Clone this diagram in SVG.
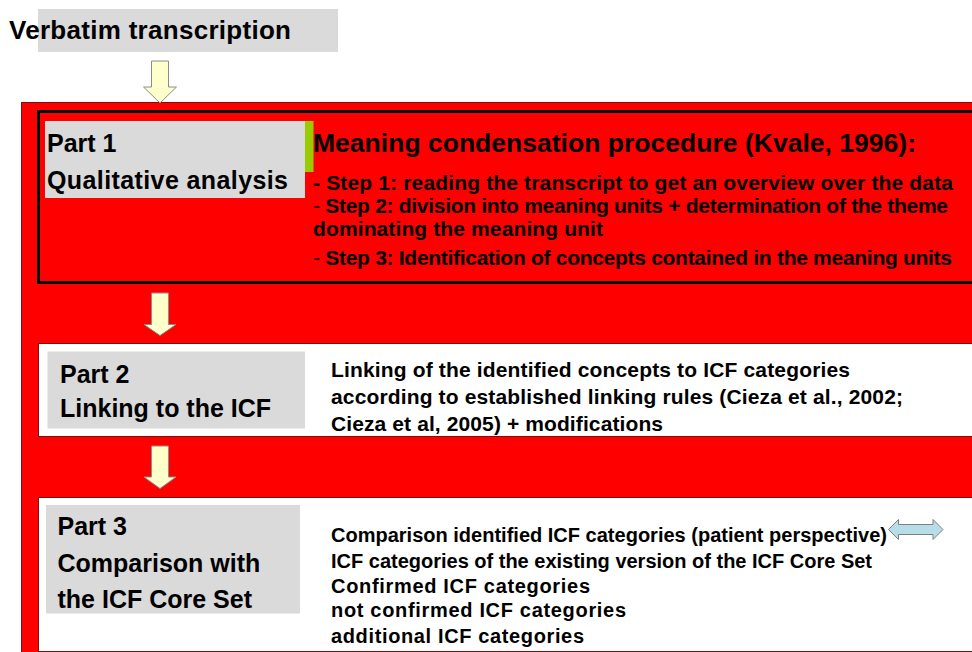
<svg xmlns="http://www.w3.org/2000/svg" width="972" height="652" viewBox="0 0 972 652">
<style>
text{font-family:"Liberation Sans",Arial,sans-serif;font-weight:bold;fill:#000}
.lbl{font-size:25px}
.body{font-size:21px}
.body3{font-size:20px}
.gray{fill:#dadada}
.arrow{fill:#ffffcc;stroke:#8c8c8c;stroke-width:1}
.thin{font-weight:normal}
</style>
<rect width="972" height="652" fill="#fff"/>
<g id="title">
<rect class="gray" x="38" y="9" width="300" height="43"/>
<text x="9" y="39" style="font-size:26px" textLength="282" lengthAdjust="spacing">Verbatim transcription</text>
</g>
<rect id="frame" x="21.5" y="102.5" width="960" height="560" fill="#ff0000" stroke="#7a1010" stroke-width="1"/>
<g id="part1">
<rect x="38.5" y="111.5" width="950" height="171" fill="#ff0000" stroke="#000" stroke-width="3"/>
<rect class="gray" x="45" y="121" width="260" height="77"/>
<rect x="305" y="121" width="8.5" height="51" fill="#99cc00"/>
<text class="lbl" x="47" y="152">Part 1</text>
<text class="lbl" x="47" y="189" textLength="241" lengthAdjust="spacing">Qualitative analysis</text>
<text x="313" y="152" style="font-size:26.5px" textLength="603" lengthAdjust="spacing">Meaning condensation procedure (Kvale, 1996):</text>
<text class="body" x="313" y="190" textLength="640" lengthAdjust="spacing">- Step 1: reading the transcript to get an overview over the data</text>
<text class="body" x="313" y="212.5" textLength="635" lengthAdjust="spacing"><tspan class="thin">-</tspan> Step 2: division into meaning units + determination of the theme</text>
<text class="body" x="313" y="235.5" textLength="290" lengthAdjust="spacing">dominating the meaning unit</text>
<text class="body" x="313" y="265" textLength="639" lengthAdjust="spacing"><tspan class="thin">-</tspan> Step 3: Identification of concepts contained in the meaning units</text>
</g>
<g id="part2">
<rect x="38.5" y="343.5" width="950" height="93" fill="#fff" stroke="#7a1010" stroke-width="1"/>
<rect class="gray" x="47.5" y="351.5" width="257.5" height="77"/>
<text class="lbl" x="60" y="382.5">Part 2</text>
<text class="lbl" x="60" y="416.5">Linking to the ICF</text>
<text class="body" x="331" y="376.5" textLength="519" lengthAdjust="spacing">Linking of the identified concepts to ICF categories</text>
<text class="body" x="331" y="404" textLength="572" lengthAdjust="spacing">according to established linking rules (Cieza et al., 2002;</text>
<text class="body" x="331" y="430.5" textLength="332" lengthAdjust="spacing">Cieza et al, 2005) + modifications</text>
</g>
<g id="part3">
<rect x="38.5" y="497.5" width="950" height="154" fill="#fff" stroke="#7a1010" stroke-width="1"/>
<rect class="gray" x="46" y="505" width="254" height="108.5"/>
<text class="lbl" x="57.5" y="535">Part 3</text>
<text class="lbl" x="57.5" y="571.5">Comparison with</text>
<text class="lbl" x="57.5" y="608">the ICF Core Set</text>
<text class="body3" x="331" y="541.5" textLength="556" lengthAdjust="spacing">Comparison identified ICF categories (patient perspective)</text>
<text class="body3" x="331" y="568" textLength="541" lengthAdjust="spacing">ICF categories of the existing version of the ICF Core Set</text>
<text class="body3" x="331" y="592.5" textLength="259" lengthAdjust="spacing">Confirmed ICF categories</text>
<text class="body3" x="331" y="616.5" textLength="295" lengthAdjust="spacing">not confirmed ICF categories</text>
<text class="body3" x="331" y="642.5" textLength="253" lengthAdjust="spacing">additional ICF categories</text>
</g>
<g id="connectors">
<path class="arrow" d="M151.5,61 H168.5 V87 H176.5 L160,103 L143.5,87 H151.5 Z"/>
<path class="arrow" d="M151.5,293 H168.5 V324.5 H176 L160,335.5 L144,324.5 H151.5 Z"/>
<path class="arrow" d="M151.5,446 H168.5 V477 H176 L160,488.5 L144,477 H151.5 Z"/>
<path d="M888.5,529.5 L898.5,519.5 V524.5 H933 V519.5 L943,529.5 L933,539.5 V534.5 H898.5 V539.5 Z" fill="#b7dee8" stroke="#7f7f7f" stroke-width="1"/>
</g>
</svg>
